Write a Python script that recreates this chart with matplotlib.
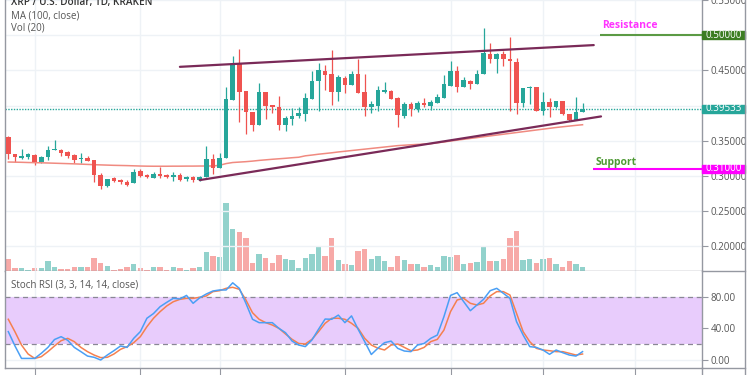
import matplotlib.pyplot as plt
import numpy as np
from matplotlib.patches import Rectangle
from matplotlib.lines import Line2D
from matplotlib.transforms import blended_transform_factory

plt.rcParams['font.family'] = ['Open Sans', 'DejaVu Sans']

# daily OHLC
opens = np.array([
    .3554, .3306, .3258, .3273, .3296, .3192, .3268, .3363, .3372, .3334,
    .3292, .3236, .3250, .3222, .3015, .2860, .2963, .2935, .2920, .2892,
    .3071, .3015, .2972, .3029, .3010, .2986, .3010, .2954, .2991, .2940,
    .2977, .3244, .3109, .3250, .4080, .4596, .4207, .3906, .3729, .4197,
    .4010, .3986, .3719, .3813, .3846, .3878, .4095, .4348, .4497, .4447,
    .4188, .4385, .4292, .4455, .4188, .3977, .4000, .4197, .4212, .4103,
    .3846, .4028, .3948, .4038, .4000, .4043, .4103, .4282, .4489, .4268,
    .4348, .4300, .4447, .4737, .4667, .4728, .4667, .4620, .4043, .4244,
    .4258, .3926, .4057, .3977, .4066, .3878, .3799, .3906])
highs = np.array([
    .3560, .3310, .3377, .3320, .3315, .3282, .3423, .3508, .3380, .3353,
    .3306, .3329, .3282, .3226, .3047, .2958, .2977, .2954, .2944, .3095,
    .3095, .3029, .3061, .3132, .3020, .3061, .3047, .3000, .3000, .3000,
    .3423, .3315, .3329, .4258, .4704, .4807, .4207, .3906, .4314, .4197,
    .4010, .4141, .3855, .3962, .3972, .4174, .4489, .4606, .4582, .4784,
    .4432, .4423, .4493, .4658, .4455, .4066, .4282, .4329, .4221, .4127,
    .4057, .4057, .4066, .4103, .4080, .4160, .4432, .4630, .4563, .4409,
    .4366, .4512, .5099, .4887, .4751, .4770, .4972, .4676, .4254, .4282,
    .4268, .4197, .4103, .4066, .4066, .3878, .4127, .4033])
lows = np.array([
    .3240, .3200, .3244, .3235, .3150, .3180, .3230, .3363, .3282, .3250,
    .3188, .3188, .3208, .2920, .2813, .2836, .2916, .2883, .2850, .2892,
    .2977, .2963, .2968, .2968, .2972, .2930, .2930, .2930, .2916, .2926,
    .2977, .3033, .3109, .3250, .4080, .3765, .3596, .3644, .3729, .3813,
    .3892, .3658, .3634, .3729, .3822, .3785, .4095, .3926, .4221, .4010,
    .4071, .4183, .4292, .4183, .3855, .3892, .3926, .4174, .4089, .3690,
    .3822, .3846, .3906, .3972, .3940, .4043, .4100, .4282, .4188, .4268,
    .4230, .4300, .4447, .4610, .4469, .4563, .3916, .3878, .3972, .4019,
    .3926, .3860, .3831, .3962, .3869, .3775, .3799, .3906])
closes = np.array([
    .3315, .3268, .3282, .3306, .3197, .3273, .3363, .3381, .3330, .3287,
    .3230, .3254, .3208, .3015, .2860, .2954, .2930, .2916, .2874, .3057,
    .3000, .2977, .3029, .3000, .2986, .3010, .2940, .2991, .2944, .2986,
    .3244, .3118, .3250, .4089, .4596, .4197, .3906, .3729, .4197, .4000,
    .3972, .3729, .3822, .3846, .3892, .4113, .4352, .4503, .4441, .4188,
    .4399, .4292, .4455, .4183, .3977, .4019, .4221, .4221, .4089, .3860,
    .4028, .3948, .4043, .4010, .4047, .4127, .4300, .4489, .4268, .4362,
    .4300, .4455, .4751, .4667, .4728, .4667, .4630, .4043, .4254, .4258,
    .3926, .4057, .3977, .4066, .3878, .3799, .3906, .3953])
volume = np.array([
    11.7, 3.3, 2.7, 1.0, 3.5, 2.7, 10.3, 4.3, 2.0, 2.0,
    4.0, 4.0, 4.0, 13.3, 8.3, 5.0, 1.3, 1.7, 4.0, 6.7,
    3.5, 1.5, 3.7, 3.7, 1.3, 3.7, 2.7, 1.0, 2.7, 4.3,
    19.3, 15.0, 14.0, 68.3, 41.7, 38.7, 32.7, 8.3, 17.0, 13.3,
    8.3, 15.7, 12.0, 11.5, 3.3, 12.7, 17.0, 23.7, 14.7, 33.3,
    11.0, 7.3, 5.7, 20.0, 22.0, 12.0, 15.3, 9.7, 4.3, 15.0,
    11.0, 6.7, 7.3, 4.3, 5.7, 4.3, 14.7, 14.0, 15.7, 7.3,
    8.0, 9.0, 24.3, 10.3, 10.3, 12.0, 33.3, 40.0, 11.0, 12.0,
    8.0, 12.0, 12.7, 7.0, 3.7, 9.7, 7.3, 3.7])
ma100 = np.array([
    .3197, .3195, .3193, .3190, .3188, .3186, .3183, .3180, .3177, .3174,
    .3171, .3167, .3163, .3159, .3156, .3153, .3150, .3148, .3146, .3143,
    .3140, .3138, .3137, .3137, .3137, .3138, .3138, .3139, .3139, .3140,
    .3140, .3141, .3150, .3175, .3190, .3196, .3202, .3210, .3220, .3228,
    .3236, .3243, .3250, .3258, .3265, .3285, .3296, .3308, .3318, .3328,
    .3340, .3350, .3360, .3370, .3380, .3390, .3400, .3410, .3420, .3430,
    .3436, .3442, .3447, .3452, .3458, .3470, .3482, .3495, .3508, .3520,
    .3532, .3544, .3556, .3568, .3580, .3592, .3604, .3616, .3628, .3640,
    .3652, .3664, .3676, .3688, .3698, .3708, .3718, .3727])
stoch_k = np.array([
    36, 18, 2, 2, 2, 8.5, 16, 26, 29.6, 25,
    16, 10.6, 5, 3.4, 0, 6.3, 11.8, 17.8, 16, 27.5,
    36, 53, 59, 67.7, 73.2, 78.3, 77.5, 82, 72, 79,
    83.8, 87.6, 88.9, 88.9, 98, 91, 72, 51.7, 47.4, 47.4,
    47.4, 40.2, 34.7, 24, 19, 17, 25.4, 39, 52, 51.7,
    57, 47.4, 56, 39, 23.3, 7, 15, 22, 24, 14.8,
    11.4, 10.6, 19, 21, 27.5, 31.7, 55, 82, 85.5, 74,
    62.6, 69.8, 77, 88, 91, 84.7, 78.3, 48.7, 31.7, 17,
    16, 12.7, 7.2, 12.7, 9.3, 6.3, 5, 10.6])
stoch_d = np.array([
    51.7, 36, 19, 7.6, 2, 4.2, 10.6, 17.8, 24.5, 27.5,
    23.3, 16, 10.6, 6.3, 3, 3.4, 7.6, 13.5, 17, 22,
    29.6, 42.3, 53, 61.4, 68.6, 74, 77, 78.3, 78.3, 79.6,
    81.3, 86.8, 88, 91, 92.3, 89.8, 76.2, 60, 51.7, 47.4,
    44.4, 40.2, 33, 26.2, 21, 20.3, 26.2, 36, 46.6, 53,
    53, 51.7, 46.6, 40.2, 27.5, 19, 15, 12.7, 19, 20.3,
    16, 11.8, 12.7, 16, 23.3, 26.2, 38, 61.4, 76.2, 78.3,
    72, 69.8, 72, 81.3, 86.8, 86.8, 82.5, 59.3, 36, 23.3,
    14.8, 12.7, 11.8, 10.6, 10.6, 8.5, 6.3, 7.6])

last_price = 0.39533
resistance = 0.50
support = 0.31
price_ticks = [0.20, 0.25, 0.30, 0.35, 0.40, 0.45, 0.50, 0.55]
stoch_ticks = [0, 40, 80]
date_ticks = [4, 20, 32, 51, 67, 81, 95]
# hand drawn trend lines (bar index, price)
upper_trend = ([26.0, 88.7], [0.455, 0.4859])
lower_trend = ([29.0, 89.8], [0.294, 0.3845])

UP, DOWN = '#26a69a', '#ef5350'
GRID = '#eef2f6'
AXIS = '#9598a1'
TXT = '#555555'

W, H = 750, 375
fig = plt.figure(figsize=(7.5, 3.75), dpi=100)
rect_main = [5 / W, 1 - 271 / H, 697 / W, 271 / H]
vax = fig.add_axes(rect_main)
ax = fig.add_axes(rect_main)
ax.patch.set_alpha(0)
ax2 = fig.add_axes([5 / W, 1 - 368 / H, 697 / W, 97 / H])

x = np.arange(len(closes))
up = closes >= opens
cols = np.where(up, UP, DOWN)
xlim = (-0.5, 105.1)

# volume overlay
vcols = np.where(up, '#92d2cc', '#f7a9a7')
vax.bar(x, volume, width=0.8, color=vcols, zorder=2)
vax.set_xlim(*xlim)
vax.set_ylim(0, volume.max() * 271 / 68.3)
vax.axis('off')

# grid
ax.set_xlim(*xlim)
ax.set_ylim(0.16479, 0.54648)
ax.set_yticks(price_ticks)
ax.set_xticks(date_ticks)
ax.grid(True, color=GRID, lw=1, zorder=0)
ax.set_axisbelow(True)

# candles
ax.vlines(x, lows, highs, color=cols, lw=0.9, zorder=3)
body = np.maximum(np.abs(closes - opens), 0.0012)
ax.bar(x, body, bottom=np.minimum(opens, closes), width=0.68, color=cols, zorder=4)

# MA
ax.plot(x, ma100, color='#f08a80', lw=1.1, zorder=3)

# trend lines
ax.plot(*upper_trend, color='#7a2a58', lw=1.6, zorder=5, solid_capstyle='round')
ax.plot(*lower_trend, color='#7a2a58', lw=1.6, zorder=5, solid_capstyle='round')

# last price
ax.axhline(last_price, color=UP, ls=(0, (1, 1)), lw=1, zorder=2)

# support / resistance
ax.hlines(resistance, 89.65, xlim[1], color='#5b9a44', lw=1.5, zorder=5)
ax.hlines(support, 88.6, xlim[1], color='#ff00ff', lw=1.5, zorder=5)
ax.text(89.95, 0.5137, 'Resistance', color='#ff33ff', fontsize=7.5,
        fontweight='bold', va='center', ha='left')
ax.text(88.9, 0.3197, 'Support', color='#4f9a35', fontsize=7.5,
        fontweight='bold', va='center', ha='left')

# axis styling (labels under the price boxes are hidden anyway)
ax.yaxis.tick_right()
ax.yaxis.set_major_formatter(plt.FuncFormatter(
    lambda v, p: '' if round(v, 2) in (0.40, 0.50) else f'{v:.5f}'))
ax.tick_params(axis='y', length=4, color=AXIS, labelsize=7, labelcolor=TXT, pad=2)
ax.tick_params(axis='x', length=0, labelbottom=False)
ax.spines['top'].set_visible(False)
for s in ['left', 'right', 'bottom']:
    ax.spines[s].set_color(AXIS)
    ax.spines[s].set_linewidth(1)

# price boxes on the axis
trans = blended_transform_factory(ax.transAxes, ax.transData)
bh = 8.6 / 710
for p, c in [(resistance, '#3c7d22'), (last_price, UP), (support, '#ff00ff')]:
    ax.add_patch(Rectangle((1.0, p - bh / 2), 43 / 697, bh, transform=trans,
                           color=c, clip_on=False, zorder=10))
    ax.text(1.0 + 21.5 / 697, p, f'{p:.5f}', transform=trans, color='white',
            fontsize=7, ha='center', va='center', zorder=11, clip_on=False)

# stoch RSI pane
ax2.set_xlim(*xlim)
ax2.set_ylim(-10.16, 113.0)
ax2.axhspan(20, 80, color='#e8ccfc', zorder=1, lw=0)
ax2.axhline(80, color='#8a8795', lw=0.9, ls=(0, (4, 3)), zorder=2)
ax2.axhline(20, color='#8a8795', lw=0.9, ls=(0, (4, 3)), zorder=2)
ax2.plot(x, stoch_d, color='#f5804f', lw=1.1, zorder=3)
ax2.plot(x, stoch_k, color='#4a9ff5', lw=1.1, zorder=4)
ax2.set_yticks(stoch_ticks)
ax2.set_xticks(date_ticks)
ax2.grid(True, color=GRID, lw=1, zorder=0)
ax2.set_axisbelow(True)
ax2.yaxis.tick_right()
ax2.yaxis.set_major_formatter(plt.FuncFormatter(lambda v, p: f'{v:.2f}'))
ax2.tick_params(axis='y', length=4, color=AXIS, labelsize=7, labelcolor=TXT, pad=2)
ax2.tick_params(axis='x', length=5, color=AXIS, labelbottom=False)
ax2.spines['top'].set_visible(False)
for s in ['left', 'right', 'bottom']:
    ax2.spines[s].set_color(AXIS)
    ax2.spines[s].set_linewidth(1)

# outer frame pieces
def fline(x0, y0, x1, y1):
    fig.add_artist(Line2D([x0 / W, x1 / W], [1 - y0 / H, 1 - y1 / H],
                          color=AXIS, lw=1, transform=fig.transFigure))

fline(745, 0, 745, 375)
fline(702, 368, 702, 375)
fline(702, 271, 745, 271)
fline(702, 368, 745, 368)

# legends
fig.text(11 / W, 1 - 2 / H, 'XRP / U.S. Dollar, 1D, KRAKEN', fontsize=7.2,
         color='#333333', fontweight='semibold', va='center')
fig.text(11 / W, 1 - 16 / H, 'MA (100, close)', fontsize=7, color=TXT, va='center')
fig.text(11 / W, 1 - 28.5 / H, 'Vol (20)', fontsize=7, color=TXT, va='center')
fig.text(11 / W, 1 - 285 / H, 'Stoch RSI (3, 3, 14, 14, close)', fontsize=7,
         color=TXT, va='center')

fig.savefig('out.png', dpi=100)
